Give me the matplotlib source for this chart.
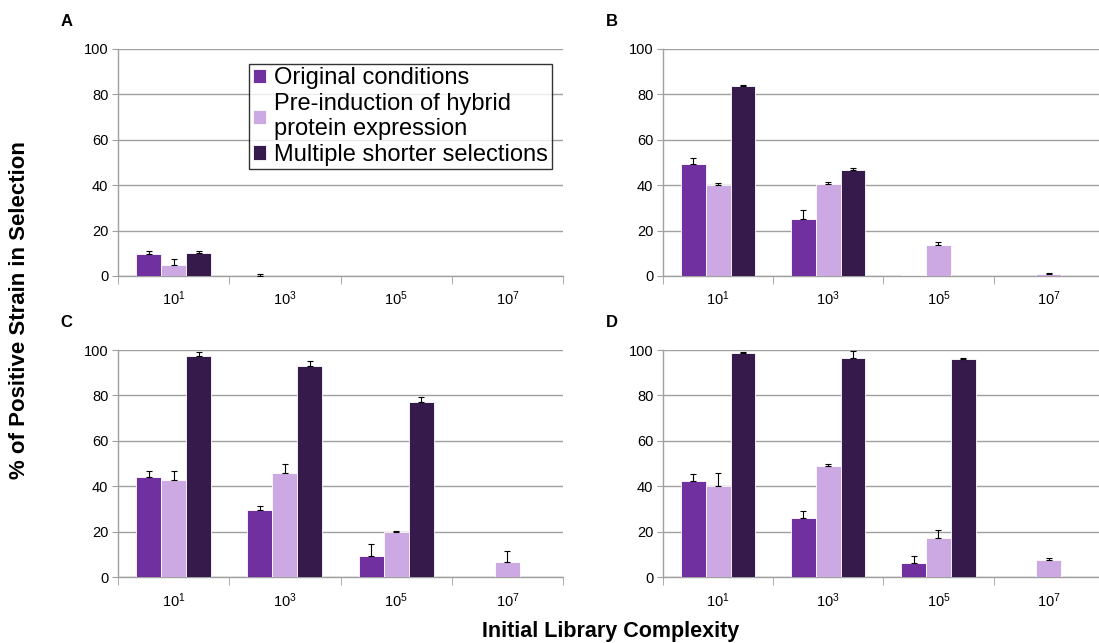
import numpy as np
import matplotlib.pyplot as plt

plt.rcParams['font.family'] = ['Liberation Sans', 'DejaVu Sans']
plt.rcParams['mathtext.fontset'] = 'custom'
plt.rcParams['mathtext.rm'] = 'Liberation Sans'
plt.rcParams['mathtext.it'] = 'Liberation Sans'

complexity = ['10$^1$', '10$^3$', '10$^5$', '10$^7$']
series = ['Original conditions',
          'Pre-induction of hybrid\nprotein expression',
          'Multiple shorter selections']
colors = ['#7030a0', '#cca9e3', '#361a4b']

# mean % positive strain per panel, one row per series
panel_a = [[9.8, 0.2, 0.0, 0.0],
           [4.8, 0.0, 0.0, 0.0],
           [10.2, 0.0, 0.0, 0.0]]
panel_a_err = [[1.2, 0.5, 0.0, 0.0],
               [2.5, 0.0, 0.0, 0.0],
               [1.0, 0.0, 0.0, 0.0]]

panel_b = [[49.3, 25.1, 0.3, 0.0],
           [40.0, 40.7, 13.5, 0.7],
           [83.7, 46.6, 0.2, 0.0]]
panel_b_err = [[2.5, 4.0, 0.0, 0.0],
               [1.0, 0.6, 1.6, 0.5],
               [0.4, 1.0, 0.0, 0.0]]

panel_c = [[44.0, 29.6, 9.4, 0.0],
           [42.8, 46.0, 19.8, 6.7],
           [97.2, 92.8, 77.1, 0.0]]
panel_c_err = [[2.6, 1.5, 5.1, 0.0],
               [4.1, 3.7, 0.6, 4.9],
               [1.9, 2.2, 2.2, 0.0]]

panel_d = [[42.1, 26.2, 6.3, 0.0],
           [40.2, 48.8, 17.0, 7.6],
           [98.8, 96.3, 95.9, 0.0]]
panel_d_err = [[3.4, 2.7, 2.9, 0.0],
               [5.7, 0.8, 3.8, 0.8],
               [0.3, 3.4, 0.4, 0.0]]

panels = [('A', panel_a, panel_a_err, [0.1074, 0.5708, 0.405, 0.353]),
          ('B', panel_b, panel_b_err, [0.6033, 0.5708, 0.401, 0.353]),
          ('C', panel_c, panel_c_err, [0.1074, 0.1026, 0.405, 0.353]),
          ('D', panel_d, panel_d_err, [0.6033, 0.1026, 0.401, 0.353])]

fig = plt.figure(figsize=(10.99, 6.43), dpi=100)
x = np.arange(len(complexity))
width = 0.225
grey = '#a0a0a0'

for letter, vals, errs, rect in panels:
    ax = fig.add_axes(rect)
    for i in range(3):
        v = np.array(vals[i])
        e = np.array(errs[i])
        pos = x + (i - 1) * width
        ax.bar(pos, v, width, color=colors[i],
               edgecolor='white', linewidth=0.6, label=series[i], zorder=3)
        # only draw error bars that have a spread
        m = e > 0
        ax.errorbar(pos[m], v[m], yerr=[np.zeros(m.sum()), e[m]],
                    fmt='none', ecolor='black', elinewidth=0.8,
                    capsize=2.5, capthick=0.8, zorder=4)
    ax.set_xlim(-0.5, len(complexity) - 0.5)
    ax.set_ylim(0, 100)
    ax.set_yticks(range(0, 101, 20))
    ax.yaxis.grid(True, color=grey, linewidth=1.0, zorder=0)
    ax.set_xticks(x)
    ax.set_xticklabels(complexity, fontsize=10.5)
    ax.set_xticks(np.arange(-0.5, len(complexity)), minor=True)
    ax.tick_params(axis='x', which='major', length=0, pad=10)
    ax.tick_params(axis='x', which='minor', length=6, color=grey, direction='out')
    ax.tick_params(axis='y', length=4, color=grey, labelsize=10.5, pad=3)
    for side in ['top', 'right']:
        ax.spines[side].set_visible(False)
    for side in ['left', 'bottom']:
        ax.spines[side].set_color(grey)
        ax.spines[side].set_linewidth(1.0)
    ax.text(-0.13, 1.09, letter, transform=ax.transAxes,
            fontsize=12, fontweight='bold', va='bottom', ha='left')
    if letter == 'A':
        leg = ax.legend(loc='upper left', bbox_to_anchor=(0.295, 0.935),
                        fontsize=17, frameon=True, fancybox=False,
                        handlelength=0.55, handleheight=0.55, handletextpad=0.35,
                        borderpad=0.15, labelspacing=0.15, borderaxespad=0)
        leg.get_frame().set_edgecolor('black')
        leg.get_frame().set_linewidth(1.0)
        leg.set_zorder(5)

fig.text(0.018, 0.518, '% of Positive Strain in Selection', rotation=90,
         fontsize=16, fontweight='bold', ha='center', va='center')
fig.text(0.556, 0.018, 'Initial Library Complexity',
         fontsize=15.5, fontweight='bold', ha='center', va='center')

fig.savefig('out.png', dpi=100)
